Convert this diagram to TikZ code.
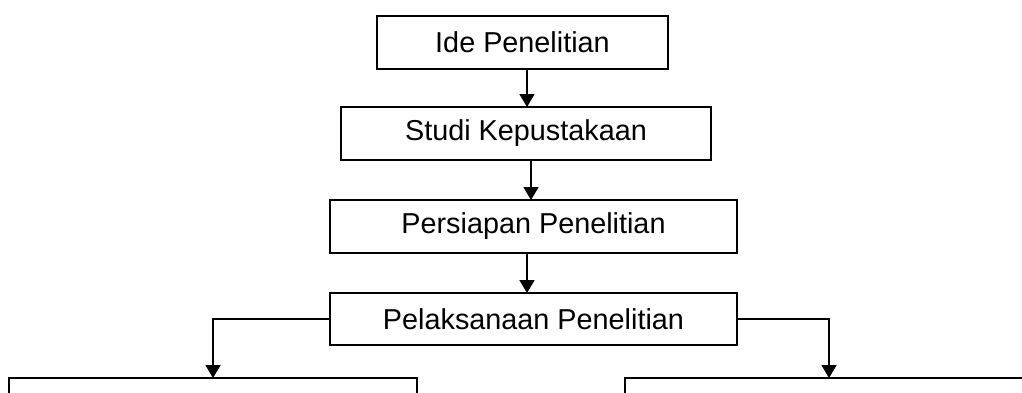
\documentclass[tikz,border=0pt]{standalone}
\usepackage{fontspec}
\setmainfont{Liberation Sans}
\usetikzlibrary{arrows.meta}
\begin{document}
\begin{tikzpicture}[x=1pt,y=-1pt,
  box/.style={draw=black,line width=1.8pt,inner sep=0pt,outer sep=0pt,
    minimum height=53pt,font=\fontsize{28.8}{32}\selectfont,align=center},
  conn/.style={line width=1.8pt,-{Triangle[width=15pt,length=13pt]}}]
\useasboundingbox (0,0) rectangle (1022,392);
\clip (0,0) rectangle (1022,392);
\fill[white] (0,0) rectangle (1022,392);
\node[box,minimum width=291pt] (b1) at (522.5,42.5) {Ide Penelitian};
\node[box,minimum width=370pt] (b2) at (526,133.5) {Studi Kepustakaan};
\node[box,minimum width=407pt] (b3) at (533.5,226.5) {Persiapan Penelitian};
\node[box,minimum width=407pt,minimum height=52pt] (b4) at (533.5,319) {Pelaksanaan Penelitian};
\node[box,minimum width=408pt,minimum height=80pt] (b5) at (213,418) {};
\node[box,minimum width=408pt,minimum height=80pt] (b6) at (829,418) {};
\coordinate (x1) at (527,0);
\coordinate (x2) at (531,0);
\draw[conn] (b1.south -| x1) -- (b2.north -| x1);
\draw[conn] (b2.south -| x2) -- (b3.north -| x2);
\draw[conn] (b3.south -| x1) -- (b4.north -| x1);
\draw[conn] (b4.west) -| (b5.north);
\draw[conn] (b4.east) -| (b6.north);
\end{tikzpicture}
\end{document}
